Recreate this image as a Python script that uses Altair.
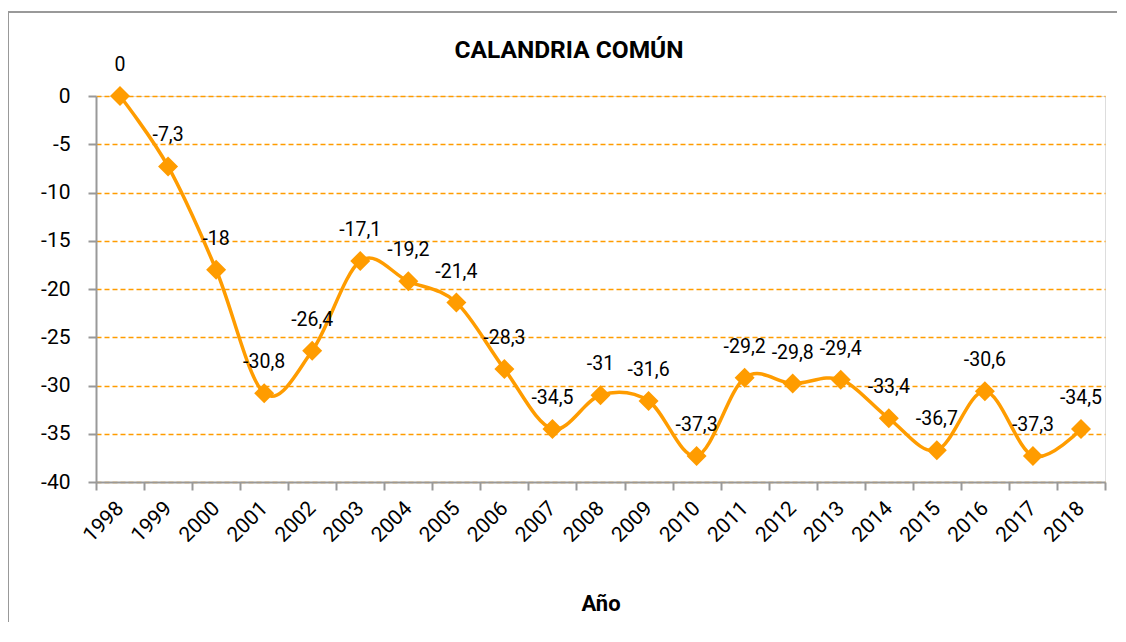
import altair as alt
import pandas as pd

years = [str(y) for y in range(1998, 2019)]
values = [0, -7.3, -18, -30.8, -26.4, -17.1, -19.2, -21.4, -28.3, -34.5, -31,
          -31.6, -37.3, -29.2, -29.8, -29.4, -33.4, -36.7, -30.6, -37.3, -34.5]
labels = ["0", "-7,3", "-18", "-30,8", "-26,4", "-17,1", "-19,2", "-21,4", "-28,3",
          "-34,5", "-31", "-31,6", "-37,3", "-29,2", "-29,8", "-29,4", "-33,4",
          "-36,7", "-30,6", "-37,3", "-34,5"]
y_ticks = [0, -5, -10, -15, -20, -25, -30, -35, -40]
title_text = ["CALANDRIA COMÚN"]

df = pd.DataFrame({"Año": years, "valor": values, "etiqueta": labels})
df_title = pd.DataFrame({"t": title_text})

FONT = "Roboto"
ORANGE = "#FF9C00"

x_enc = alt.X("Año:N", sort=years, title="Año",
              scale=alt.Scale(paddingInner=0, paddingOuter=0),
              axis=alt.Axis(labelAngle=-45, labelAlign="right", labelBaseline="middle",
                            labelPadding=15, labelFontSize=21, labelFont=FONT, labelColor="#000",
                            tickBand="extent", tickSize=8, tickColor="#999", tickWidth=2,
                            domainColor="#999", domainWidth=2, grid=False,
                            titleFont=FONT, titleFontSize=22, titleFontWeight="bold",
                            titleColor="#000", titleY=121, titleBaseline="middle"))
y_enc = alt.Y("valor:Q", title=None,
              scale=alt.Scale(domain=[-40, 0], nice=False),
              axis=alt.Axis(values=y_ticks, labelExpr="datum.value + ''",
                            labelFontSize=21, labelFont=FONT, labelColor="#000", labelPadding=18,
                            tickSize=8, tickColor="#999", tickWidth=2,
                            domainColor="#999", domainWidth=2,
                            grid=True, gridColor=ORANGE, gridDash=[5, 3], gridWidth=1.5))

base = alt.Chart(df).encode(x=x_enc, y=y_enc)

frame_left = alt.Chart(df_title).mark_rule(stroke="#999", strokeWidth=2, clip=False).encode(
    x=alt.value(-88), y=alt.value(-85), y2=alt.value(544))
frame_top = alt.Chart(df_title).mark_rule(stroke="#999", strokeWidth=2, clip=False).encode(
    x=alt.value(-88), x2=alt.value(1021), y=alt.value(-84))

title = alt.Chart(df_title).mark_text(font=FONT, fontSize=24.5, fontWeight="bold", color="#000",
                                      baseline="alphabetic", align="center").encode(
    x=alt.value(473), y=alt.value(-38), text="t:N")

line = base.mark_line(color=ORANGE, strokeWidth=3.5, interpolate="cardinal")
points = base.mark_point(shape="diamond", filled=True, color=ORANGE, size=400, opacity=1)
text = base.mark_text(dy=-31, fontSize=19.5, font=FONT, color="#000").encode(text="etiqueta:N")

chart = alt.layer(frame_left, frame_top, title, line, points, text).properties(
    width=1009, height=386,
    autosize=alt.AutoSizeParams(type="none"),
    padding={"left": 88, "top": 88, "right": 12, "bottom": 140},
).configure_view(stroke=None).configure(background="white")

chart.save("out.html", embed_options={"renderer": "svg", "actions": False})
